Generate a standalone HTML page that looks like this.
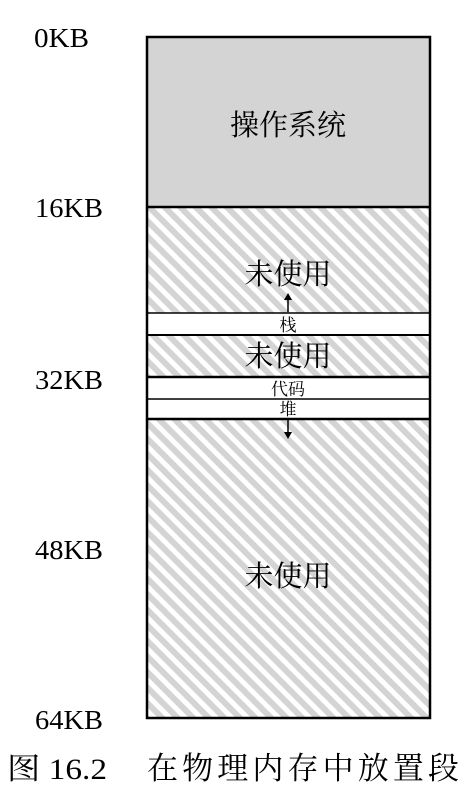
<!DOCTYPE html>
<html><head><meta charset="utf-8"><style>
html,body{margin:0;padding:0;background:#fff;}
svg{display:block;}
</style></head><body>
<svg width="470" height="799" viewBox="0 0 470 799" xmlns="http://www.w3.org/2000/svg">
<defs>
<pattern id="h" patternUnits="userSpaceOnUse" width="11" height="11" patternTransform="rotate(-45)">
<rect width="11" height="11" fill="#fff"/>
<rect width="6" height="11" fill="#d4d4d4"/>
</pattern>
</defs>
<rect x="147" y="37" width="283" height="170" fill="#d4d4d4"/>
<rect x="147" y="207" width="283" height="106" fill="url(#h)"/>
<rect x="147" y="313" width="283" height="22" fill="#fff"/>
<rect x="147" y="335" width="283" height="42" fill="url(#h)"/>
<rect x="147" y="377" width="283" height="22" fill="#fff"/>
<rect x="147" y="399" width="283" height="20" fill="#fff"/>
<rect x="147" y="419" width="283" height="299" fill="url(#h)"/>
<g stroke="#000" fill="none">
<rect x="147" y="37" width="283" height="681" stroke-width="2.5"/>
<line x1="147" y1="207" x2="430" y2="207" stroke-width="2.5"/>
<line x1="147" y1="313" x2="430" y2="313" stroke-width="1.5"/>
<line x1="147" y1="335" x2="430" y2="335" stroke-width="2"/>
<line x1="147" y1="377" x2="430" y2="377" stroke-width="2.5"/>
<line x1="147" y1="399" x2="430" y2="399" stroke-width="1.5"/>
<line x1="147" y1="419" x2="430" y2="419" stroke-width="2.5"/>
<line x1="288" y1="312" x2="288" y2="298" stroke-width="1.5"/>
<line x1="288" y1="420" x2="288" y2="434" stroke-width="1.5"/>
</g>
<polygon points="284,300 292,300 288,293" fill="#000"/>
<polygon points="284,432 292,432 288,439" fill="#000"/>
<g font-family="'Liberation Serif','Noto Serif CJK SC',serif" fill="#000">
<text x="34" y="47" font-size="27" textLength="55" lengthAdjust="spacingAndGlyphs">0KB</text>
<text x="35" y="217" font-size="27" textLength="68" lengthAdjust="spacingAndGlyphs">16KB</text>
<text x="35" y="389" font-size="27" textLength="68" lengthAdjust="spacingAndGlyphs">32KB</text>
<text x="35" y="559" font-size="27" textLength="68" lengthAdjust="spacingAndGlyphs">48KB</text>
<text x="35" y="729" font-size="27" textLength="68" lengthAdjust="spacingAndGlyphs">64KB</text>
<text x="7" y="779" font-size="30" textLength="100" lengthAdjust="spacingAndGlyphs">图 16.2</text>
<text x="147" y="779" font-size="31" textLength="312" lengthAdjust="spacing">在物理内存中放置段</text>
</g>
<g font-family="'Liberation Serif','Noto Serif CJK SC',serif" fill="#000" text-anchor="middle">
<text x="288" y="135" font-size="29">操作系统</text>
<text x="288" y="284" font-size="29">未使用</text>
<text x="288" y="366" font-size="29">未使用</text>
<text x="288" y="586" font-size="29">未使用</text>
<text x="288" y="331" font-size="17">栈</text>
<text x="288" y="395" font-size="17">代码</text>
<text x="288" y="415" font-size="17">堆</text>
</g>
</svg>
</body></html>
